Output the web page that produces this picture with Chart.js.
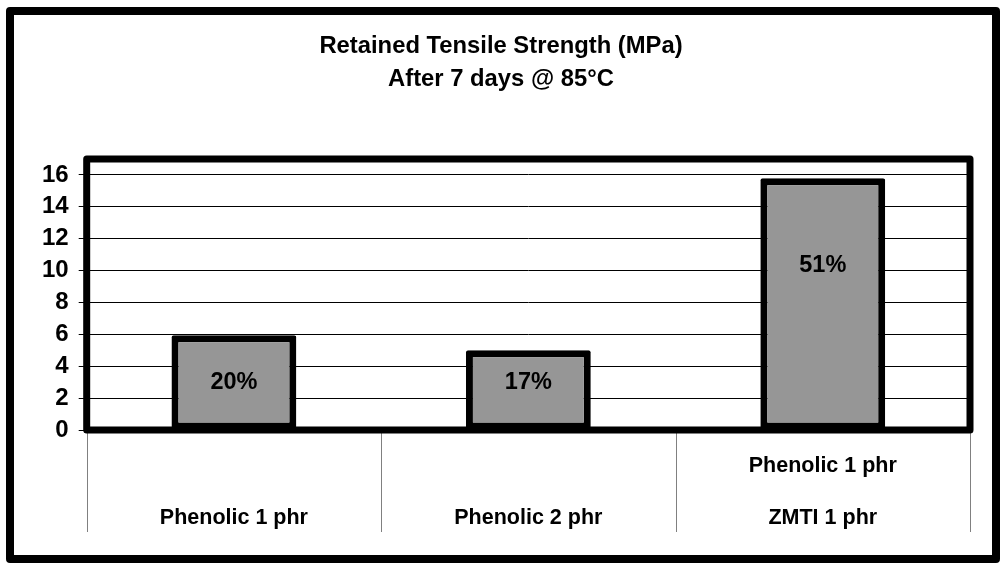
<!DOCTYPE html>
<html>
<head>
<meta charset="utf-8">
<title>Retained Tensile Strength</title>
<script src="https://cdn.jsdelivr.net/npm/chart.js@4.4.1/dist/chart.umd.min.js"></script>
<style>
  body { margin: 0; background: #fff; }
  #container { width: 1000px; height: 563px; }
</style>
</head>
<body>
<div id="container">
  <canvas id="myChart" width="1000" height="563"></canvas>
</div>
<script>
// chart data
var categories = [
    "Phenolic 1 phr",
    "Phenolic 2 phr",
    ["Phenolic 1 phr", "ZMTI 1 phr"]
]
var strength = [5.95, 5.0, 15.8]
var retained = ["20%", "17%", "51%"]
var titleLines = ["Retained Tensile Strength (MPa)", "After 7 days @ 85\u00B0C"]

var FONT = "'Liberation Sans', Arial, sans-serif"

// white page with thick black border all round
var outerFrame = {
    id: "outerFrame",
    beforeDraw: function (chart) {
        var ctx = chart.ctx
        ctx.save()
        ctx.fillStyle = "#fff"
        ctx.fillRect(0, 0, chart.width, chart.height)
        ctx.strokeStyle = "#000"
        ctx.lineWidth = 8
        ctx.lineJoin = "round"
        ctx.strokeRect(10, 11, 986, 548)
        ctx.restore()
    }
}

// thin category separators under the axis, heavy box round the plot,
// and the % labels inside the bars
var plotFrame = {
    id: "plotFrame",
    afterDatasetsDraw: function (chart, args, opts) {
        var ctx = chart.ctx
        var a = chart.chartArea
        var x = chart.scales.x
        var y = chart.scales.y
        ctx.save()

        ctx.strokeStyle = "#808080"
        ctx.lineWidth = 1
        for (var i = 0; i <= categories.length; i++) {
            var px = Math.round(x.getPixelForValue(i - 0.5)) + 0.5
            ctx.beginPath()
            ctx.moveTo(px, a.bottom)
            ctx.lineTo(px, a.bottom + opts.sepLength)
            ctx.stroke()
        }

        ctx.strokeStyle = "#000"
        ctx.lineWidth = 7
        ctx.lineJoin = "round"
        ctx.strokeRect(a.left, a.top, a.right - a.left, a.bottom - a.top)

        var meta = chart.getDatasetMeta(0)
        ctx.fillStyle = "#000"
        ctx.font = "bold 23.5px " + FONT
        ctx.textAlign = "center"
        ctx.textBaseline = "middle"
        meta.data.forEach(function (bar, i) {
            ctx.fillText(retained[i], bar.x, y.getPixelForValue(opts.labelAt[i]))
        })
        ctx.restore()
    }
}

var myChart = new Chart(document.getElementById("myChart"), {
    type: "bar",
    data: {
        labels: categories,
        datasets: [{
            label: "Retained Tensile Strength (MPa)",
            data: strength,
            backgroundColor: "#969696",
            borderColor: "#000",
            borderWidth: 7,
            borderSkipped: false,
            borderRadius: 2,
            categoryPercentage: 1,
            barPercentage: 0.424
        }]
    },
    options: {
        responsive: false,
        animation: false,
        layout: { padding: { left: 32, right: 30, top: 30, bottom: -43 } },
        plugins: {
            legend: { display: false },
            tooltip: { enabled: false },
            title: {
                display: true,
                text: titleLines,
                color: "#000",
                font: { family: FONT, size: 23.8, weight: "bold", lineHeight: "33px" },
                padding: { top: 0, bottom: 63 }
            },
            plotFrame: { labelAt: [2.96, 2.96, 10.3], sepLength: 102 }
        },
        scales: {
            x: {
                border: { display: false },
                grid: { display: false, drawTicks: false },
                ticks: {
                    color: "#000",
                    crossAlign: "far",
                    padding: 36,
                    maxRotation: 0,
                    autoSkip: false,
                    font: { family: FONT, size: 21.5, weight: "bold", lineHeight: "52px" }
                }
            },
            y: {
                min: 0,
                max: 17,
                border: { display: false },
                grid: { color: "#000", lineWidth: 1, tickLength: 8 },
                ticks: {
                    stepSize: 2,
                    includeBounds: false,
                    autoSkip: false,
                    color: "#000",
                    padding: 10,
                    font: { family: FONT, size: 24, weight: "bold" }
                }
            }
        }
    },
    plugins: [outerFrame, plotFrame]
})
</script>
</body>
</html>
